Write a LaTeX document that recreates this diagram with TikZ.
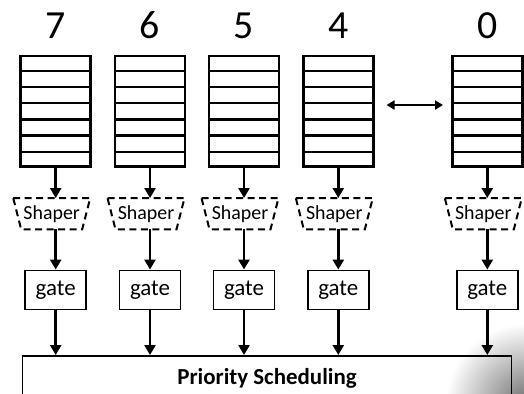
\documentclass[tikz,border=0pt]{standalone}
\usepackage{fontspec}
\setmainfont{Carlito}
\usetikzlibrary{arrows.meta,calc,fadings}
\tikzfading[name=shfade, inner color=transparent!20, outer color=transparent!100]
\begin{document}
\begin{tikzpicture}[x=1bp,y=-1bp,
  queue/.style={draw, line width=2.6bp, minimum width=70bp, minimum height=110.7bp, inner sep=0pt},
  rowline/.style={line width=2.2bp},
  digit/.style={font=\fontsize{40}{40}\selectfont, inner sep=0pt, anchor=base},
  shaperlabel/.style={font=\fontsize{20}{20}\selectfont, minimum width=70bp, minimum height=31bp, inner sep=0pt},
  shaperline/.style={line width=2bp, dash pattern=on 7bp off 4.5bp},
  gatebox/.style={draw, line width=1.9bp, minimum width=61bp, minimum height=39bp, inner sep=0pt, font=\fontsize{23}{23}\selectfont},
  arr/.style={line width=2.8bp, -{Triangle[length=10bp,width=11bp]}},
  darr/.style={line width=2.2bp, {Triangle[length=8bp,width=9bp]}-{Triangle[length=8bp,width=9bp]}},
  prio/.style={draw, line width=1.6bp, minimum width=489bp, minimum height=45bp, inner sep=0pt, anchor=north west, font=\fontsize{23}{23}\selectfont\bfseries}
]
\useasboundingbox (0,0) rectangle (524,393);
\clip (0,0) rectangle (524,393);
% shadow
\fill[black!70, path fading=shfade] (526,404) circle (80);
% priority box
\node[prio] (p) at (21.7,355) {Priority Scheduling};
\foreach \n/\x in {7/55.7,6/150,5/244,4/338.3,0/487.3}{
  \node[digit] (l\n) at (\x,38) {\n};
  \node[queue] (q\n) at (\x,111.3) {};
  \foreach \k in {1,...,6}
    \draw[rowline] ($(q\n.north west)!\k/7!(q\n.south west)$) -- ($(q\n.north east)!\k/7!(q\n.south east)$);
  \node[shaperlabel] (s\n) at (\x-4,213.7) {Shaper};
  \draw[shaperline] ($(s\n.north)+(-38.5,0)$) -- ($(s\n.north)+(38.5,0)$) -- ($(s\n.south)+(30.5,0)$) -- ($(s\n.south)+(-30.5,0)$) -- cycle;
  \node[gatebox] (g\n) at (\x,290) {gate};
  \draw[arr] (q\n.south) -- (q\n.south |- s\n.north);
  \draw[arr] (s\n.south -| g\n.north) -- (g\n.north);
  \draw[arr] (g\n.south) -- (g\n.south |- p.north);
}
\draw[darr, shorten <=12bp, shorten >=8bp] ([yshift=6.3bp]q4.east) -- ([yshift=6.3bp]q0.west);
\end{tikzpicture}
\end{document}
